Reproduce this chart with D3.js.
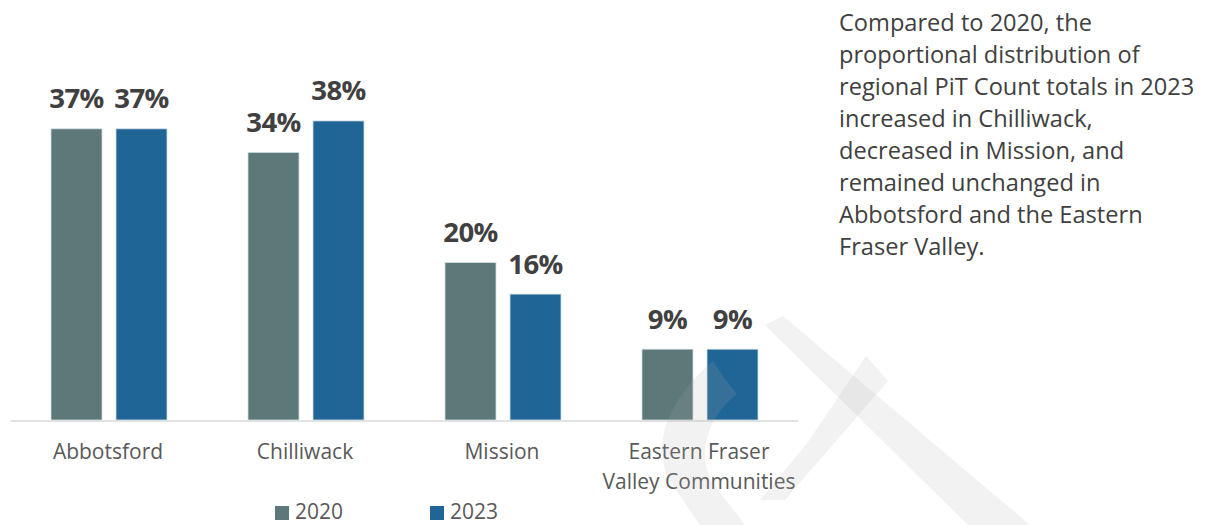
<!DOCTYPE html>
<html>
<head>
<meta charset="utf-8">
<script src="https://cdn.jsdelivr.net/npm/d3@7"></script>
<style>
  body { margin: 0; background: #fff; }
  svg text { font-family: "Open Sans", "Noto Sans", sans-serif; }
</style>
</head>
<body>
<div id="chart"></div>
<script>
// data
var categories = ["Abbotsford", "Chilliwack", "Mission", "Eastern Fraser Valley Communities"]
var categoryLines = [["Abbotsford"], ["Chilliwack"], ["Mission"], ["Eastern Fraser", "Valley Communities"]]
var years = ["2020", "2023"]
var values2020 = [37, 34, 20, 9]
var values2023 = [37, 38, 16, 9]
var colors = ["#5c7878", "#1f6595"]
var note = [
  "Compared to 2020, the",
  "proportional distribution of",
  "regional PiT Count totals in 2023",
  "increased in Chilliwack,",
  "decreased in Mission, and",
  "remained unchanged in",
  "Abbotsford and the Eastern",
  "Fraser Valley."
]

var width = 1207, height = 525

var svg = d3.select("#chart").append("svg")
    .attr("width", width)
    .attr("height", height)

var rows = categories.map(function (c, i) {
  return { cat: c, vals: [values2020[i], values2023[i]] }
})

var x0 = d3.scaleBand().domain(categories).range([10.5, 798.5])
var x1 = d3.scaleBand().domain(years).range([40.5, 156.5]).paddingInner(14 / 65)
var y = d3.scaleLinear().domain([0, 40]).range([420, 105.2])

// baseline
svg.append("line")
    .attr("x1", x0.range()[0]).attr("x2", x0.range()[1] - 0.5)
    .attr("y1", y(0) + 1).attr("y2", y(0) + 1)
    .attr("stroke", "#d9d9d9")
    .attr("stroke-width", 1.5)

var groups = svg.selectAll(".grp")
    .data(rows)
  .enter().append("g")
    .attr("class", "grp")
    .attr("transform", function (d) { return "translate(" + x0(d.cat) + ",0)" })

var bars = groups.selectAll(".bar")
    .data(function (d) { return d.vals.map(function (v, j) { return { year: years[j], v: v, j: j } }) })
  .enter()

bars.append("rect")
    .attr("x", function (d) { return x1(d.year) })
    .attr("y", function (d) { return y(d.v) })
    .attr("width", x1.bandwidth())
    .attr("height", function (d) { return y(0) - y(d.v) })
    .attr("fill", function (d) { return colors[d.j] })
    .attr("stroke", "#d3dde2")
    .attr("stroke-width", 0.8)

bars.append("text")
    .attr("x", function (d) { return x1(d.year) + x1.bandwidth() / 2 })
    .attr("y", function (d) { return y(d.v) - 20.5 })
    .attr("text-anchor", "middle")
    .attr("font-size", 27.5)
    .attr("font-weight", "bold")
    .attr("letter-spacing", -0.6)
    .attr("fill", "#404040")
    .text(function (d) { return d.v + "%" })

// category labels
groups.each(function (d, i) {
  var t = d3.select(this).append("text")
      .attr("text-anchor", "middle")
      .attr("font-size", 21)
      .attr("fill", "#595959")
  categoryLines[i].forEach(function (line, k) {
    t.append("tspan")
        .attr("x", x0.bandwidth() / 2 - 1)
        .attr("y", 459 + k * 30)
        .text(line)
  })
})

// legend
var legend = svg.selectAll(".leg")
    .data(years)
  .enter().append("g")
    .attr("class", "leg")
    .attr("transform", function (d, i) { return "translate(" + (275 + i * 155) + ",506)" })

legend.append("rect")
    .attr("width", 14).attr("height", 14)
    .attr("fill", function (d, i) { return colors[i] })

legend.append("text")
    .attr("x", 20).attr("y", 13)
    .attr("font-size", 21)
    .attr("fill", "#595959")
    .text(function (d) { return d })

// side note
svg.append("text")
    .attr("font-size", 23.6)
    .attr("fill", "#404040")
  .selectAll("tspan")
    .data(note)
  .enter().append("tspan")
    .attr("x", 839)
    .attr("y", function (d, i) { return 31 + i * 32 })
    .text(function (d) { return d })

// faint logo watermark in the lower right
var mark = svg.append("g")
    .attr("fill", "#b0b0b0")
    .attr("fill-opacity", 0.16)

mark.append("path")
    .attr("d", "M765,325 L783,316 L1030,525 L968,525 Z")
mark.append("path")
    .attr("d", "M866,356 L888,381 L785,500 L760,500 L808,442 Z")
mark.append("path")
    .attr("d", "M713,361 C670,398 652,440 668,478 L700,525 L745,525 L712,482 C698,458 704,420 737,394 L722,375 Z")
</script>
</body>
</html>
